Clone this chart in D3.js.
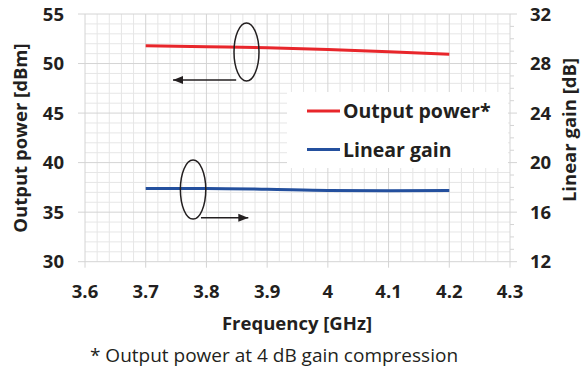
<!DOCTYPE html>
<html>
<head>
<meta charset="utf-8">
<script src="https://cdn.jsdelivr.net/npm/d3@7"></script>
<style>
  body { margin: 0; background: #fff; }
  svg { display: block; font-family: "Open Sans", sans-serif; }
  .tick_lbl { font-size: 18.5px; font-weight: bold; fill: #231f20; }
  .title { font-size: 18.5px; font-weight: bold; fill: #231f20; }
  .leg { font-size: 19.5px; font-weight: bold; fill: #231f20; }
</style>
</head>
<body>
<svg id="chart" width="582" height="374"></svg>
<script>
// data
let freq = [3.7, 3.8, 3.9, 4.0, 4.1, 4.2];
let pout = [51.8, 51.7, 51.6, 51.42, 51.2, 50.93];
let gain = [17.92, 17.92, 17.85, 17.75, 17.73, 17.74];
let xTicks = [3.6, 3.7, 3.8, 3.9, 4.0, 4.1, 4.2, 4.3];
let yTicks = [30, 35, 40, 45, 50, 55];
let y2Ticks = [12, 16, 20, 24, 28, 32];
let seriesNames = ["Output power*", "Linear gain"];

let svg = d3.select("#chart");
let x = d3.scaleLinear().domain([3.6, 4.3]).range([85, 510]);
let y = d3.scaleLinear().domain([30, 55]).range([261.7, 14]);
let y2 = d3.scaleLinear().domain([12, 32]).range([261.7, 14]);

// minor grid
let g = svg.append("g");
for (let i = 0; i <= 35; ++i) {
    let v = 3.6 + i * 0.02;
    if (i % 5 === 0) continue;
    g.append("line").attr("x1", x(v)).attr("x2", x(v)).attr("y1", y(55)).attr("y2", y(30))
        .attr("stroke", "#e6e6e6").attr("stroke-width", 1);
}
for (let v = 31; v < 55; ++v) {
    if (v % 5 === 0) continue;
    g.append("line").attr("x1", x(3.6)).attr("x2", x(4.3)).attr("y1", y(v)).attr("y2", y(v))
        .attr("stroke", "#e6e6e6").attr("stroke-width", 1);
}
// major grid + ticks
xTicks.forEach(v => {
    g.append("line").attr("x1", x(v)).attr("x2", x(v)).attr("y1", y(55)).attr("y2", y(30) + 6)
        .attr("stroke", "#d4d4d4").attr("stroke-width", 1);
});
yTicks.forEach(v => {
    g.append("line").attr("x1", x(3.6) - 7).attr("x2", x(4.3) + 7).attr("y1", y(v)).attr("y2", y(v))
        .attr("stroke", "#d4d4d4").attr("stroke-width", 1);
});
for (let v = 13; v < 32; ++v) {
    if (v % 4 === 0) continue;
    g.append("line").attr("x1", x(4.3)).attr("x2", x(4.3) + 4).attr("y1", y2(v)).attr("y2", y2(v))
        .attr("stroke", "#d4d4d4").attr("stroke-width", 1);
}

// tick labels
svg.append("g").selectAll("text").data(xTicks).join("text")
    .attr("class", "tick_lbl").attr("x", d => x(d)).attr("y", 298)
    .attr("text-anchor", "middle").text(d => d3.format("~g")(d));
svg.append("g").selectAll("text").data(yTicks).join("text")
    .attr("class", "tick_lbl").attr("x", 64).attr("y", d => y(d) + 6.5)
    .attr("text-anchor", "end").text(d => d);
svg.append("g").selectAll("text").data(y2Ticks).join("text")
    .attr("class", "tick_lbl").attr("x", 530).attr("y", d => y2(d) + 6.5)
    .attr("text-anchor", "start").text(d => d);

// axis titles
svg.append("text").attr("class", "title").attr("text-anchor", "middle")
    .attr("transform", "translate(27,138) rotate(-90)").text("Output power [dBm]");
svg.append("text").attr("class", "title").attr("text-anchor", "middle")
    .attr("transform", "translate(576,130) rotate(-90)").text("Linear gain [dB]");
svg.append("text").attr("class", "title").attr("text-anchor", "middle")
    .attr("x", 297).attr("y", 330).text("Frequency [GHz]");
svg.append("text").attr("text-anchor", "middle").attr("x", 274).attr("y", 362)
    .style("font-size", "19px").attr("fill", "#231f20")
    .text("* Output power at 4 dB gain compression");

// series
let linePout = d3.line().x((d, i) => x(freq[i])).y(d => y(d)).curve(d3.curveMonotoneX);
let lineGain = d3.line().x((d, i) => x(freq[i])).y(d => y2(d)).curve(d3.curveMonotoneX);
svg.append("path").attr("d", linePout(pout)).attr("fill", "none")
    .attr("stroke", "#e8262b").attr("stroke-width", 3);
svg.append("path").attr("d", lineGain(gain)).attr("fill", "none")
    .attr("stroke", "#24509e").attr("stroke-width", 3);

// annotations
svg.append("defs").append("marker").attr("id", "arrow")
    .attr("viewBox", "0 0 10 10").attr("refX", 10).attr("refY", 5)
    .attr("markerWidth", 10).attr("markerHeight", 10).attr("markerUnits", "userSpaceOnUse")
    .attr("orient", "auto")
    .append("path").attr("d", "M0,1 L10,5 L0,9 Z").attr("fill", "#231f20");

svg.append("ellipse").attr("cx", x(3.866)).attr("cy", y(51.16)).attr("rx", 12.5).attr("ry", 29)
    .attr("fill", "none").attr("stroke", "#231f20").attr("stroke-width", 1.5);
svg.append("line").attr("x1", x(3.849)).attr("x2", x(3.745)).attr("y1", y(48.33)).attr("y2", y(48.33))
    .attr("stroke", "#231f20").attr("stroke-width", 1.5).attr("marker-end", "url(#arrow)");
svg.append("ellipse").attr("cx", x(3.778)).attr("cy", y2(17.82)).attr("rx", 12.7).attr("ry", 29.5)
    .attr("fill", "none").attr("stroke", "#231f20").attr("stroke-width", 1.5);
svg.append("line").attr("x1", x(3.791)).attr("x2", x(3.869)).attr("y1", y2(15.54)).attr("y2", y2(15.54))
    .attr("stroke", "#231f20").attr("stroke-width", 1.5).attr("marker-end", "url(#arrow)");

// legend
let leg = svg.append("g");
leg.append("rect").attr("x", 287).attr("y", 92).attr("width", 221).attr("height", 76).attr("fill", "#fff");
let legColors = ["#e8262b", "#24509e"];
seriesNames.forEach((name, i) => {
    let ly = 111 + i * 38.5;
    leg.append("line").attr("x1", 307).attr("x2", 340).attr("y1", ly).attr("y2", ly)
        .attr("stroke", legColors[i]).attr("stroke-width", 3);
    leg.append("text").attr("class", "leg").attr("x", 343).attr("y", ly + 7).text(name);
});
</script>
</body>
</html>
